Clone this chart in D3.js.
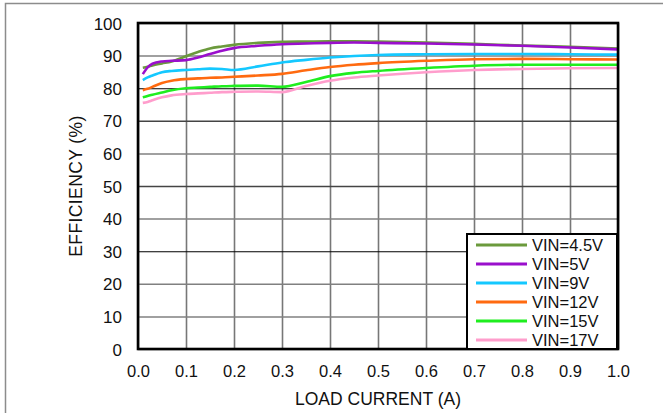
<!DOCTYPE html>
<html>
<head>
<meta charset="utf-8">
<script src="https://cdn.jsdelivr.net/npm/d3@7"></script>
<style>
  html, body { margin: 0; padding: 0; background: #fff; }
  svg { display: block; font-family: "Liberation Sans", Arial, Helvetica, sans-serif; }
</style>
</head>
<body>
<svg id="chart" width="663" height="413"></svg>
<script>
// ---- data ----
const load = [0.01, 0.02, 0.03, 0.05, 0.07, 0.1, 0.125, 0.15, 0.175, 0.2, 0.25, 0.3, 0.35, 0.4, 0.45, 0.5, 0.6, 0.7, 0.8, 0.9, 1.0];
const vin45 = [86.3, 86.6, 87.0, 87.6, 88.2, 89.8, 91.1, 92.2, 92.8, 93.3, 93.9, 94.2, 94.3, 94.4, 94.4, 94.3, 94.0, 93.6, 93.1, 92.7, 92.2];
const vin5  = [84.3, 86.4, 87.5, 88.2, 88.4, 88.6, 89.4, 90.5, 91.5, 92.3, 93.0, 93.5, 93.7, 93.9, 94.0, 93.9, 93.7, 93.4, 93.0, 92.5, 91.9];
const vin9  = [82.5, 83.3, 83.9, 84.9, 85.3, 85.6, 85.8, 86.0, 85.9, 85.6, 86.7, 87.9, 88.7, 89.4, 89.9, 90.2, 90.4, 90.5, 90.5, 90.4, 90.3];
const vin12 = [79.4, 79.8, 80.4, 81.6, 82.3, 82.8, 83.0, 83.2, 83.3, 83.5, 83.9, 84.4, 85.5, 86.5, 87.2, 87.7, 88.4, 88.9, 89.0, 88.9, 88.8];
const vin15 = [77.2, 77.6, 78.0, 78.7, 79.4, 80.0, 80.2, 80.4, 80.6, 80.7, 80.8, 80.4, 81.9, 83.7, 84.7, 85.3, 86.2, 86.9, 87.2, 87.2, 87.2];
const vin17 = [75.5, 75.8, 76.3, 77.2, 77.8, 78.2, 78.4, 78.6, 78.8, 78.9, 79.0, 78.8, 80.7, 82.3, 83.3, 83.9, 84.9, 85.6, 85.9, 86.1, 86.2];
const seriesNames = ["VIN=4.5V", "VIN=5V", "VIN=9V", "VIN=12V", "VIN=15V", "VIN=17V"];
const seriesColors = ["#6b9a3c", "#9a0fcc", "#14c8ff", "#ff6a10", "#1fee1f", "#ff9dcc"];
const xTicks = [0, 0.1, 0.2, 0.3, 0.4, 0.5, 0.6, 0.7, 0.8, 0.9, 1.0];
const yTicks = [0, 10, 20, 30, 40, 50, 60, 70, 80, 90, 100];

const seriesValues = [vin45, vin5, vin9, vin12, vin15, vin17];

// ---- layout ----
const svg = d3.select("#chart");
const L = 138, R = 618, T = 23, B = 349;

// outer frame
svg.append("rect")
  .attr("x", 5.5).attr("y", 3.5).attr("width", 720).attr("height", 500)
  .attr("fill", "#fff").attr("stroke", "#8c8c8c").attr("stroke-width", 1.5);

const x = d3.scaleLinear().domain([0, 1]).range([L, R]);
const y = d3.scaleLinear().domain([0, 100]).range([B, T]);

// gridlines
const darkH = new Set([30, 80]);
const gx = svg.append("g").attr("transform", `translate(0,${B})`)
  .call(d3.axisBottom(x).tickValues(xTicks).tickSize(-(B - T)).tickFormat(""));
gx.select(".domain").remove();
gx.selectAll(".tick line").attr("stroke", "#777").attr("stroke-width", 1.6);

const gy = svg.append("g").attr("transform", `translate(${L},0)`)
  .call(d3.axisLeft(y).tickValues(yTicks).tickSize(-(R - L)).tickFormat(""));
gy.select(".domain").remove();
gy.selectAll(".tick line")
  .attr("stroke", d => darkH.has(d) ? "#000" : (d === 70 || d === 50 ? "#444" : "#808080"))
  .attr("stroke-width", d => darkH.has(d) ? 1.1 : 1.5);

// tick labels
const xl = svg.append("g").attr("transform", `translate(0,${B})`)
  .call(d3.axisBottom(x).tickValues(xTicks).tickSize(0).tickPadding(0).tickFormat(d3.format(".1f")));
xl.select(".domain").remove();
xl.selectAll("text").attr("y", 28).attr("dy", 0)
  .attr("font-size", 16.5).attr("fill", "#111")
  .attr("font-family", "'Liberation Sans', Arial, sans-serif");

const yl = svg.append("g").attr("transform", `translate(${L},0)`)
  .call(d3.axisLeft(y).tickValues(yTicks).tickSize(0).tickPadding(0).tickFormat(d3.format("d")));
yl.select(".domain").remove();
yl.selectAll("text").attr("x", -16).attr("dy", "0.36em")
  .attr("font-size", 17).attr("fill", "#111")
  .attr("font-family", "'Liberation Sans', Arial, sans-serif");

// lines
const line = d3.line()
  .x((d, i) => x(load[i]))
  .y(d => y(d))
  .curve(d3.curveMonotoneX);

seriesValues.forEach((vals, k) => {
  svg.append("path")
    .datum(vals)
    .attr("fill", "none")
    .attr("stroke", seriesColors[k])
    .attr("stroke-width", 2.6)
    .attr("stroke-linejoin", "round")
    .attr("d", line);
});

// plot border
svg.append("rect")
  .attr("x", L).attr("y", T).attr("width", R - L).attr("height", B - T)
  .attr("fill", "none").attr("stroke", "#000").attr("stroke-width", 2.6);

// legend
const lg = svg.append("g");
lg.append("rect")
  .attr("x", 467).attr("y", 234).attr("width", 150).attr("height", 115)
  .attr("fill", "#fff").attr("stroke", "#000").attr("stroke-width", 2);
seriesNames.forEach((name, k) => {
  const cy = 245 + k * 19;
  lg.append("line")
    .attr("x1", 476).attr("x2", 527).attr("y1", cy).attr("y2", cy)
    .attr("stroke", seriesColors[k]).attr("stroke-width", 3);
  lg.append("text")
    .attr("x", 532).attr("y", cy).attr("dy", "0.36em")
    .attr("font-size", 16.5).attr("fill", "#111")
    .text(name);
});

// axis titles
svg.append("text")
  .attr("x", (L + R) / 2).attr("y", 405)
  .attr("text-anchor", "middle").attr("font-size", 17.5).attr("fill", "#111")
  .text("LOAD CURRENT (A)");
svg.append("text")
  .attr("transform", `translate(82,${(T + B) / 2}) rotate(-90)`)
  .attr("text-anchor", "middle").attr("font-size", 17.5).attr("fill", "#111")
  .attr("letter-spacing", 0.4)
  .text("EFFICIENCY (%)");
</script>
</body>
</html>
